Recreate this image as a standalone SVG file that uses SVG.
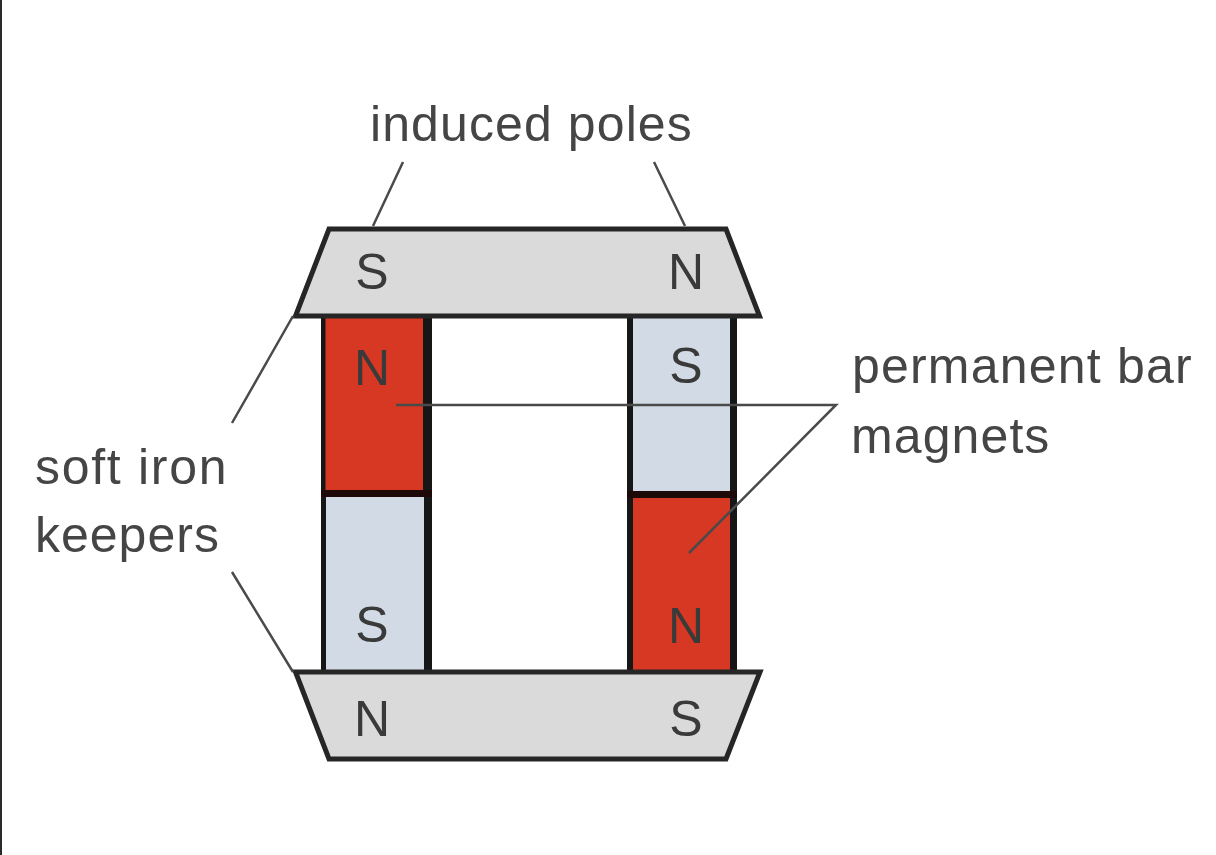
<svg xmlns="http://www.w3.org/2000/svg" width="1216" height="855" viewBox="0 0 1216 855">
<style>
text{font-family:"Liberation Sans",Arial,sans-serif;fill:#454545}
.l{font-size:50px}
.p{font-size:50px;text-anchor:middle;fill:#3a3a3a}
.k{fill:#dadada;stroke:#262626;stroke-width:5;stroke-linejoin:miter}
.e{fill:#161616}
.red{fill:#d63823}
.blue{fill:#d2dbe5}
.c{fill:none;stroke:#4a4a4a;stroke-width:2.5}
</style>
<rect width="1216" height="855" fill="#fff"/>
<rect x="0" y="0" width="2" height="855" fill="#2a2a2a"/>
<g id="magnet-left-top"><rect class="red" x="325" y="318" width="98" height="172"/><rect class="e" x="321" y="316" width="4.500" height="178"/><rect class="e" x="423" y="316" width="9" height="178"/><rect x="321" y="490" width="111" height="7" fill="#1d0a08"/><text class="p" x="372" y="385">N</text></g>
<g id="magnet-left-bottom"><rect class="blue" x="325" y="497" width="99" height="174"/><rect class="e" x="321" y="497" width="5" height="174"/><rect class="e" x="424" y="497" width="8" height="174"/><text class="p" x="372" y="642">S</text></g>
<g id="magnet-right-top"><rect class="blue" x="633" y="318" width="97" height="173"/><rect class="e" x="627" y="316" width="6" height="178"/><rect class="e" x="730" y="316" width="7" height="178"/><text class="p" x="686" y="383">S</text></g>
<g id="magnet-right-bottom"><rect class="red" x="633" y="498" width="97" height="173"/><rect class="e" x="627" y="491" width="6" height="180"/><rect class="e" x="730" y="491" width="7" height="180"/><rect x="627" y="491" width="110" height="7" fill="#1d0a08"/><text class="p" x="686" y="643">N</text></g>
<g id="keeper-top"><polygon class="k" points="329,229 726,229 759.500,316 295.500,316"/><text class="p" x="372" y="289">S</text><text class="p" x="686" y="289">N</text></g>
<g id="keeper-bottom"><polygon class="k" points="295.500,672 760,672 726,759 329,759"/><text class="p" x="372" y="736">N</text><text class="p" x="686" y="736">S</text></g>
<g id="connectors">
<path class="c" d="M403 162L373 226M654 162L685 226M293 316L232 423M232 572L293 672M396 405H836L689 553"/>
</g>
<g id="labels">
<text class="l" x="370" y="141" letter-spacing="1.100">induced poles</text>
<text class="l" x="852" y="383" letter-spacing="1.200">permanent bar</text>
<text class="l" x="851" y="453" letter-spacing="1.100">magnets</text>
<text class="l" x="35" y="484" letter-spacing="1.700">soft iron</text>
<text class="l" x="35" y="552" letter-spacing="1">keepers</text>
</g>
</svg>
